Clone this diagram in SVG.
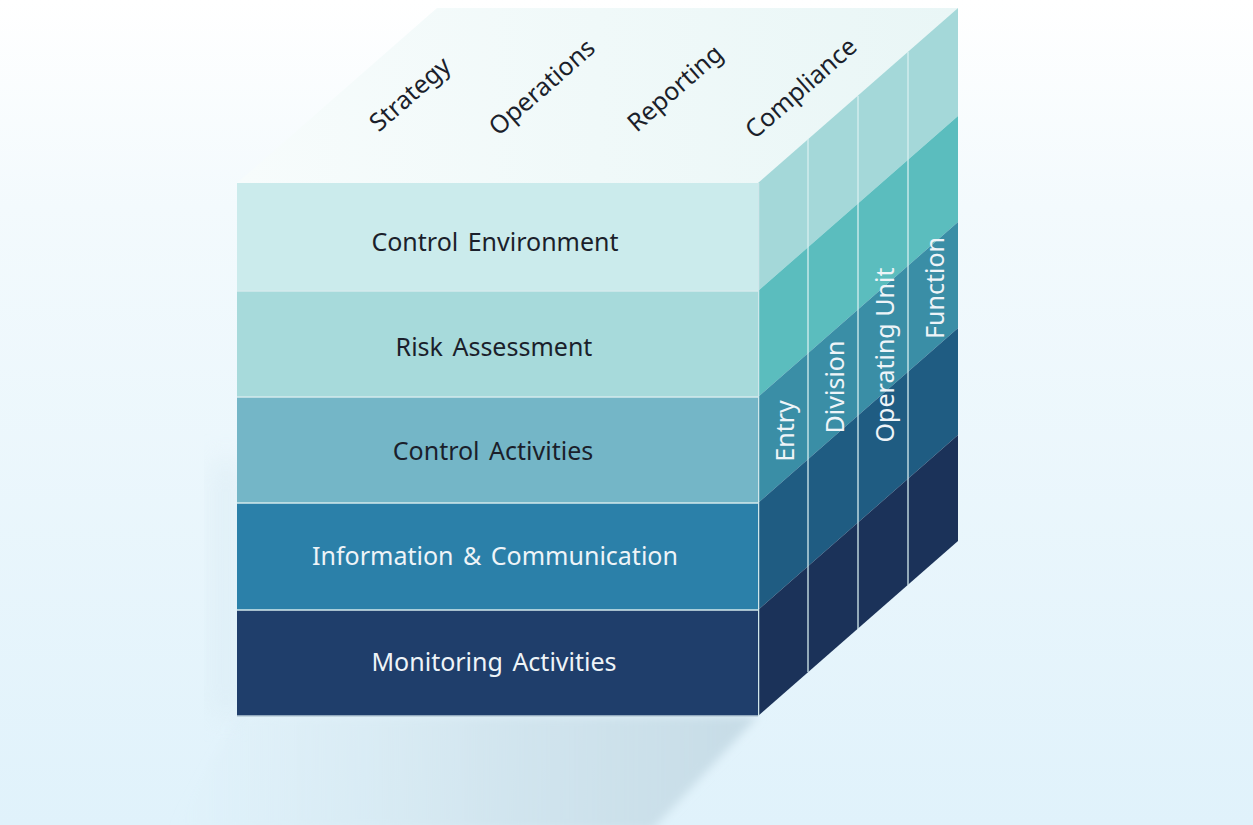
<svg xmlns="http://www.w3.org/2000/svg" width="1253" height="825" viewBox="0 0 1253 825">
<defs>
<linearGradient id="bg" x1="0" y1="0" x2="0" y2="1">
<stop offset="0" stop-color="#ffffff"/>
<stop offset="0.25" stop-color="#f3fafd"/>
<stop offset="1" stop-color="#e0f2fb"/>
</linearGradient>
<linearGradient id="topg" x1="0" y1="0" x2="1" y2="0">
<stop offset="0" stop-color="#f7fcfc"/>
<stop offset="1" stop-color="#e9f6f6"/>
</linearGradient>
<linearGradient id="shg" x1="0" y1="0" x2="1" y2="0">
<stop offset="0" stop-color="#cfe3ec" stop-opacity="0"/>
<stop offset="0.6" stop-color="#c9dee8" stop-opacity="0.7"/>
<stop offset="1" stop-color="#c3d9e4" stop-opacity="0.9"/>
</linearGradient>
<filter id="blur" x="-30%" y="-30%" width="160%" height="160%">
<feGaussianBlur stdDeviation="5"/>
</filter>
<filter id="blur2" x="-50%" y="-10%" width="200%" height="120%">
<feGaussianBlur stdDeviation="14"/>
</filter>
<style>
.lbl{font-family:"Noto Sans","Open Sans","DejaVu Sans",sans-serif;font-size:25px;text-anchor:middle;dominant-baseline:central}
.front{word-spacing:3px}
.dark{fill:#1b1f2b}
.light{fill:#eef4f8}
.sep{stroke:#d4eaed;stroke-width:1.5;fill:none}
.div{stroke:#d8eef0;stroke-width:1.5;fill:none;opacity:0.85}
</style>
</defs>
<rect x="0" y="0" width="1253" height="825" fill="url(#bg)"/>
<g id="shadow">
<polygon points="215,460 237,460 237,716 215,716" fill="#d6e8f1" opacity="0.6" filter="url(#blur2)"/>
<polygon points="237,716 758,716 652,830 170,830" fill="url(#shg)" filter="url(#blur)"/>
</g>
<g id="top-face">
<polygon points="237,183 758,183 958,8 437,8" fill="url(#topg)"/>
</g>
<g id="right-face">
<polygon points="758,183 958,8 958,116 758,291" fill="#a4d8d9"/>
<polygon points="758,291 958,116 958,222 758,397" fill="#5bbdbe"/>
<polygon points="758,397 958,222 958,328 758,503" fill="#3a8ea6"/>
<polygon points="758,503 958,328 958,435 758,610" fill="#1f5c82"/>
<polygon points="758,610 958,435 958,541 758,716" fill="#1b3259"/>
<line class="div" x1="808" y1="139" x2="808" y2="672"/>
<line class="div" x1="858" y1="96" x2="858" y2="629"/>
<line class="div" x1="908" y1="52" x2="908" y2="585"/>
<line x1="758.5" y1="183" x2="758.5" y2="716" stroke="#cfe6ea" stroke-width="1.5"/>
</g>
<g id="row-control-environment">
<rect x="237" y="183" width="521" height="108" fill="#cbebec"/>
<text class="lbl front dark" x="495" y="241">Control Environment</text>
</g>
<g id="row-risk-assessment">
<rect x="237" y="291" width="521" height="106" fill="#a7dadb"/>
<text class="lbl front dark" x="494" y="346">Risk Assessment</text>
</g>
<g id="row-control-activities">
<rect x="237" y="397" width="521" height="106" fill="#74b6c7"/>
<text class="lbl front dark" x="493" y="450">Control Activities</text>
</g>
<g id="row-information-communication">
<rect x="237" y="503" width="521" height="107" fill="#2b80a9"/>
<text class="lbl front light" x="495" y="555">Information &amp; Communication</text>
</g>
<g id="row-monitoring-activities">
<rect x="237" y="610" width="521" height="106" fill="#1f3e6b"/>
<text class="lbl front light" x="494" y="661">Monitoring Activities</text>
</g>
<g id="row-separators">
<line class="sep" x1="237" y1="291" x2="758" y2="291"/>
<line class="sep" x1="237" y1="397" x2="758" y2="397"/>
<line class="sep" x1="237" y1="503" x2="758" y2="503"/>
<line class="sep" x1="237" y1="610" x2="758" y2="610"/>
<line x1="237" y1="716" x2="758" y2="716" stroke="#b9cdd8" stroke-width="1.5"/>
</g>
<g id="top-strategy"><text class="lbl dark" transform="translate(409,93) rotate(-41.2)">Strategy</text></g>
<g id="top-operations"><text class="lbl dark" transform="translate(541,86) rotate(-41.2)">Operations</text></g>
<g id="top-reporting"><text class="lbl dark" transform="translate(674,87) rotate(-41.2)">Reporting</text></g>
<g id="top-compliance"><text class="lbl dark" transform="translate(800,87) rotate(-41.2)">Compliance</text></g>
<g id="side-entry"><text class="lbl light" transform="translate(784,431) rotate(-90)">Entry</text></g>
<g id="side-division"><text class="lbl light" transform="translate(834,387) rotate(-90)">Division</text></g>
<g id="side-operating-unit"><text class="lbl light" transform="translate(884,355) rotate(-90)">Operating Unit</text></g>
<g id="side-function"><text class="lbl light" transform="translate(934,288) rotate(-90)">Function</text></g>
<g id="connectors"/>
</svg>
